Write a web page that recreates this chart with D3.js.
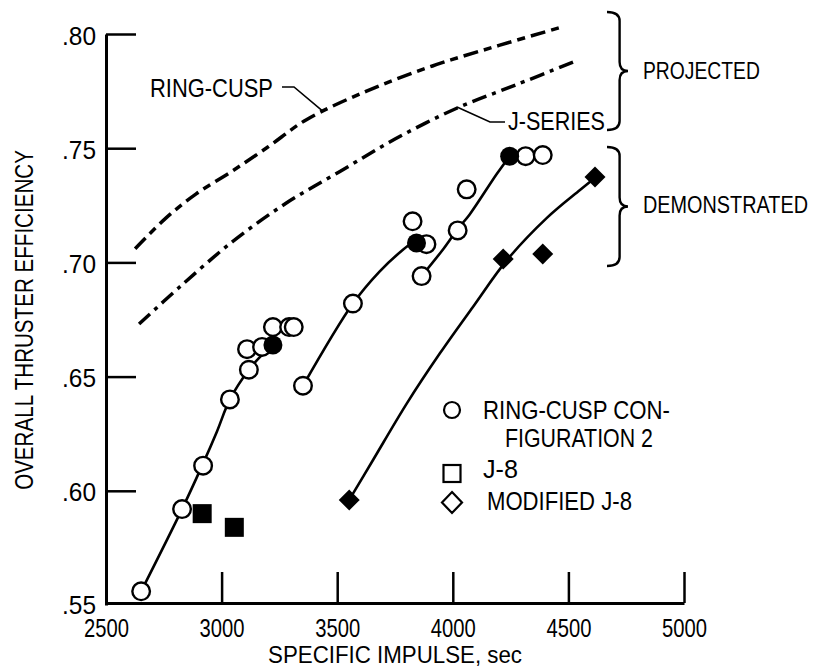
<!DOCTYPE html>
<html>
<head>
<meta charset="utf-8">
<script src="https://cdn.jsdelivr.net/npm/d3@7/dist/d3.min.js"></script>
<style>
  body { margin: 0; background: #fff; }
  svg { display: block; }
  text { font-family: "Liberation Sans", Arial, sans-serif; fill: #000; }
</style>
</head>
<body>
<div class="chart"></div>
<script>
/* global d3 */
const svgWidth = 817;
const svgHeight = 669;

// tick values
const xTicks = [2500, 3000, 3500, 4000, 4500, 5000];
const yTicks = [0.55, 0.60, 0.65, 0.70, 0.75, 0.80];

// ring-cusp configuration 2 (open / filled)
const ringCuspOpen = [
  [2652, 0.556], [2829, 0.592], [2920, 0.611], [3036, 0.640], [3118, 0.653],
  [3110, 0.662], [3175, 0.663], [3222, 0.6717], [3292, 0.6717], [3312, 0.6717],
  [3352, 0.646], [3568, 0.682], [3826, 0.718], [3886, 0.708], [3865, 0.694],
  [4021, 0.714], [4060, 0.732], [4315, 0.7465], [4389, 0.747]
];
const ringCuspFilled = [[3222, 0.6638], [3843, 0.7085], [4246, 0.7465]];
// J-8
const j8 = [[2916, 0.590], [3055, 0.584]];
// modified J-8
const modJ8 = [[3552, 0.596], [4218, 0.7015], [4389, 0.7037], [4615, 0.7374]];

// faired curves through the data
const fitRing1 = [[2652, 0.556], [2829, 0.592], [2920, 0.612], [2980, 0.626], [3036, 0.640], [3118, 0.653], [3170, 0.659], [3222, 0.664]];
const fitRing2 = [[3352, 0.646], [3568, 0.682], [3683, 0.696], [3778, 0.705], [3843, 0.710]];
const fitRing3 = [[3865, 0.694], [3960, 0.706], [4021, 0.7146], [4073, 0.721], [4190, 0.7387], [4246, 0.7465]];
const fitModJ8 = [[3552, 0.596], [3655, 0.6135], [3802, 0.6384], [3945, 0.6603], [4087, 0.6805], [4234, 0.701], [4407, 0.7195], [4550, 0.7317], [4602, 0.736]];

// projected performance
const projRingCusp = [[2626, 0.706], [2760, 0.7195], [2890, 0.730], [3046, 0.740], [3200, 0.7505], [3367, 0.7625], [3627, 0.775], [3912, 0.786], [4200, 0.795], [4470, 0.803]];
const projJSeries = [[2643, 0.673], [2816, 0.689], [3046, 0.709], [3280, 0.726], [3510, 0.7397], [3750, 0.754], [4017, 0.7675], [4280, 0.778], [4528, 0.788]];

const legendItems = ["RING-CUSP CON-", "FIGURATION 2", "J-8", "MODIFIED J-8"];

let svg = d3.select(".chart").append("svg")
    .attr("width", svgWidth)
    .attr("height", svgHeight);

const x = d3.scaleLinear().domain([2500, 5000]).range([106, 684]);
const y = d3.scaleLinear().domain([0.55, 0.80]).range([605, 34]);

// condensed lettering: squeeze the plain glyphs horizontally to the measured width
function squeeze(t, width, tx, ty, rot) {
  const s = width / t.node().getComputedTextLength();
  t.attr("x", 0).attr("y", 0)
   .attr("transform", `translate(${tx},${ty})${rot ? " rotate(" + rot + ")" : ""} scale(${s},1)`);
  return t;
}
function label(g, str, px, py, size, width, anchor, rot) {
  const t = g.append("text")
      .attr("text-anchor", anchor || "start")
      .style("font-size", size + "px")
      .text(str);
  return squeeze(t, width, px, py, rot);
}

// axes
let yAxis = svg.append("g")
    .attr("transform", "translate(106,0)")
    .call(d3.axisLeft(y).tickValues(yTicks).tickSizeInner(-30).tickSizeOuter(0)
        .tickPadding(10).tickFormat(d => d3.format(".2f")(d).replace(/^0/, "")));
let xAxis = svg.append("g")
    .attr("transform", "translate(0,603)")
    .call(d3.axisBottom(x).tickValues(xTicks).tickSizeInner(-31).tickSizeOuter(0)
        .tickPadding(14).tickFormat(d3.format("d")));

[xAxis, yAxis].forEach(a => {
  a.attr("font-family", null).attr("font-size", null);
  a.select(".domain").attr("stroke-width", 3);
  a.selectAll(".tick line").attr("stroke-width", 2.5);
});
xAxis.selectAll(".tick text").attr("dy", null).style("font-size", "26px")
    .each(function() { squeeze(d3.select(this), 45, 0, 34); });
yAxis.selectAll(".tick text").attr("dy", null).style("font-size", "26px")
    .each(function(d) { squeeze(d3.select(this), 34, -10, d === 0.55 ? 8 : 10); });
yAxis.selectAll(".tick").filter(d => d === 0.55).select("line").remove();
xAxis.selectAll(".tick").filter(d => d === 2500).select("line").remove();

label(svg, "SPECIFIC IMPULSE, sec", 395, 663, 23, 254, "middle");
label(svg, "OVERALL THRUSTER EFFICIENCY", 33, 320, 25, 340, "middle", -90);

// curves
const line = d3.line().x(d => x(d[0])).y(d => y(d[1])).curve(d3.curveCatmullRom.alpha(0.5));

[fitRing1, fitRing2, fitRing3, fitModJ8].forEach(c => {
  svg.append("path").attr("d", line(c))
      .attr("fill", "none").attr("stroke", "#000").attr("stroke-width", 2.6);
});
svg.append("path").attr("d", line(projRingCusp))
    .attr("fill", "none").attr("stroke", "#000").attr("stroke-width", 3.5)
    .attr("stroke-dasharray", "15,6,8,6");
svg.append("path").attr("d", line(projJSeries))
    .attr("fill", "none").attr("stroke", "#000").attr("stroke-width", 3.5)
    .attr("stroke-dasharray", "15,6,4,6");

// points
svg.selectAll(".ro").data(ringCuspOpen).enter().append("circle")
    .attr("cx", d => x(d[0])).attr("cy", d => y(d[1])).attr("r", 8.8)
    .attr("fill", "#fff").attr("stroke", "#000").attr("stroke-width", 2.4);
svg.selectAll(".rf").data(ringCuspFilled).enter().append("circle")
    .attr("cx", d => x(d[0])).attr("cy", d => y(d[1])).attr("r", 9.5)
    .attr("fill", "#000");
svg.selectAll(".sq").data(j8).enter().append("rect")
    .attr("x", d => x(d[0]) - 9.5).attr("y", d => y(d[1]) - 9.5)
    .attr("width", 19).attr("height", 19).attr("fill", "#000");
svg.selectAll(".dm").data(modJ8).enter().append("path")
    .attr("d", d => `M${x(d[0])},${y(d[1]) - 10.5}l10.5,10.5l-10.5,10.5l-10.5,-10.5z`)
    .attr("fill", "#000");

// curve labels with leader lines
label(svg, "RING-CUSP", 150, 97, 25, 123);
svg.append("path")
    .attr("d", `M282,87H294L${x(3440)},${y(0.766)}`)
    .attr("fill", "none").attr("stroke", "#000").attr("stroke-width", 1.6);
label(svg, "J-SERIES", 508, 130, 25, 97);
svg.append("path")
    .attr("d", `M${x(4018)},${y(0.768)}L490,122H505`)
    .attr("fill", "none").attr("stroke", "#000").attr("stroke-width", 1.6);

// braces
function brace(x0, y0, y1, w) {
  const m = (y0 + y1) / 2, s = x0 + w * 0.6, r = 9;
  return `M${x0},${y0}Q${s},${y0} ${s},${y0 + r}V${m - r}Q${s},${m} ${x0 + w},${m}` +
         `Q${s},${m} ${s},${m + r}V${y1 - r}Q${s},${y1} ${x0},${y1}`;
}
svg.append("path").attr("d", brace(607, 12, 130, 21))
    .attr("fill", "none").attr("stroke", "#000").attr("stroke-width", 2.4);
svg.append("path").attr("d", brace(607, 147, 266, 21))
    .attr("fill", "none").attr("stroke", "#000").attr("stroke-width", 2.4);
label(svg, "PROJECTED", 643, 79, 24, 117);
label(svg, "DEMONSTRATED", 643, 213, 24, 165);

// legend
let legend = svg.append("g");
legend.append("circle").attr("cx", 452).attr("cy", 410).attr("r", 8)
    .attr("fill", "#fff").attr("stroke", "#000").attr("stroke-width", 2.2);
legend.append("rect").attr("x", 443.5).attr("y", 465).attr("width", 17).attr("height", 17)
    .attr("fill", "#fff").attr("stroke", "#000").attr("stroke-width", 2.2);
legend.append("path").attr("d", "M452,492l10,10.5l-10,10.5l-10,-10.5z")
    .attr("fill", "#fff").attr("stroke", "#000").attr("stroke-width", 2.2);
const legendPos = [[483, 419, 187], [505, 447, 148], [483, 478, 35], [487, 510, 145]];
legendItems.forEach((t, i) => label(legend, t, legendPos[i][0], legendPos[i][1], 25, legendPos[i][2]));
</script>
</body>
</html>
